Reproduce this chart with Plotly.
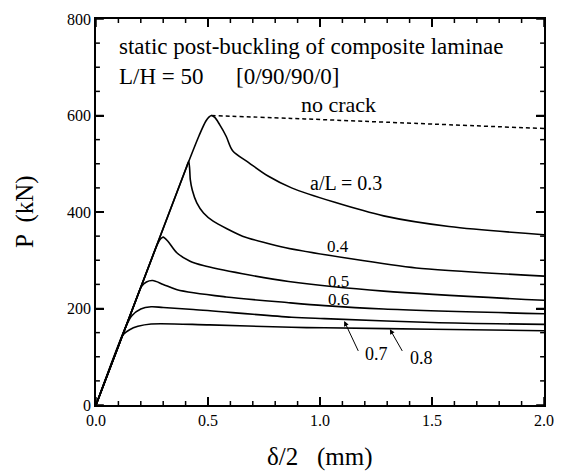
import plotly.graph_objects as go

# ---- data (delta/2 in mm, P in kN) ----
x_03 = [0, 0.40, 0.46, 0.49, 0.505, 0.515, 0.53, 0.552, 0.581, 0.61, 0.683, 0.77, 0.873, 1.066, 1.284, 1.576, 2.0]
y_03 = [0, 488, 558, 588, 597, 600, 596, 581, 557, 527, 502, 474, 450, 420, 392, 370, 353]

x_nc = [0.515, 0.873, 1.3, 2.0]
y_nc = [600, 594, 586, 573]

x_04 = [0, 0.40, 0.414, 0.418, 0.421, 0.43, 0.45, 0.48, 0.523, 0.654, 0.847, 1.139, 1.43, 2.0]
y_04 = [0, 488, 505, 490, 467, 445, 419, 398, 381, 350, 326, 303, 284, 267]

x_05 = [0, 0.26, 0.275, 0.29, 0.30, 0.32, 0.362, 0.42, 0.479, 0.654, 0.86, 1.284, 2.0]
y_05 = [0, 317, 334, 345, 348, 340, 315, 298, 289, 272, 256, 236, 217]

x_06 = [0, 0.185, 0.202, 0.225, 0.253, 0.30, 0.362, 0.581, 0.86, 1.02, 1.284, 2.0]
y_06 = [0, 226, 245, 255, 258, 250, 239, 224, 212, 206, 199, 189]

x_07 = [0, 0.13, 0.16, 0.20, 0.246, 0.30, 0.435, 0.873, 1.02, 1.5, 2.0]
y_07 = [0, 159, 185, 199, 203.5, 202, 198, 182, 179, 171, 167]

x_08 = [0, 0.10, 0.122, 0.15, 0.187, 0.246, 0.508, 0.873, 1.02, 1.5, 2.0]
y_08 = [0, 122, 146, 156, 163, 168, 166, 161, 160, 157, 154]

curve_labels = ["a/L = 0.3", "0.4", "0.5", "0.6"]
label_x = [1.115, 1.082, 1.082, 1.082]
label_y = [461, 329, 257, 219]
label_size = [20, 17, 17, 17]

# axis ticks: major step and minor step
x_major, x_minor = 0.5, 0.1
y_major, y_minor = 200, 50
x_range = [0, 2.0]
y_range = [0, 800]

W, H = 565, 472
ML, MR, MT, MB = 96, 11, 18, 67

FONT = "Liberation Serif, DejaVu Serif, Times New Roman, serif"
fig = go.Figure()

curves = [(x_03, y_03), (x_04, y_04), (x_05, y_05), (x_06, y_06), (x_07, y_07), (x_08, y_08)]
for i, (xs, ys) in enumerate(curves):
    fig.add_trace(go.Scatter(x=xs, y=ys, mode="lines",
                             line=dict(color="black", width=1.6, shape="spline",
                                       smoothing=0.6 if i == 1 else 0.9),
                             showlegend=False))
fig.add_trace(go.Scatter(x=x_nc, y=y_nc, mode="lines",
                         line=dict(color="black", width=1.5, dash="4px,3px", shape="spline"), showlegend=False))

# inward tick marks on all four sides (major + minor), sized in pixels
px_per_x = (W - ML - MR) / (x_range[1] - x_range[0])
px_per_y = (H - MT - MB) / (y_range[1] - y_range[0])
shapes = []
n_x = int(round((x_range[1] - x_range[0]) / x_minor))
for i in range(n_x + 1):
    v = x_range[0] + i * x_minor
    major = abs(v / x_major - round(v / x_major)) < 1e-6
    L = (8 if major else 4) / px_per_y
    for y0, y1 in [(y_range[0], y_range[0] + L), (y_range[1], y_range[1] - L)]:
        shapes.append(dict(type="line", xref="x", yref="y", x0=v, x1=v, y0=y0, y1=y1,
                           line=dict(color="black", width=1.5), layer="above"))
n_y = int(round((y_range[1] - y_range[0]) / y_minor))
for i in range(n_y + 1):
    v = y_range[0] + i * y_minor
    major = abs(v / y_major - round(v / y_major)) < 1e-6
    L = (8 if major else 4) / px_per_x
    for x0, x1 in [(x_range[0], x_range[0] + L), (x_range[1], x_range[1] - L)]:
        shapes.append(dict(type="line", xref="x", yref="y", x0=x0, x1=x1, y0=v, y1=v,
                           line=dict(color="black", width=1.5), layer="above"))

ann = []
ann.append(dict(x=0.094, y=743, text="static post-buckling of composite laminae", showarrow=False,
                xanchor="left", yanchor="middle", font=dict(family=FONT, size=23, color="black")))
ann.append(dict(x=0.094, y=681, text="L/H = 50", showarrow=False,
                xanchor="left", yanchor="middle", font=dict(family=FONT, size=23, color="black")))
ann.append(dict(x=0.614, y=681, text="[0/90/90/0]", showarrow=False,
                xanchor="left", yanchor="middle", font=dict(family=FONT, size=23, color="black")))
ann.append(dict(x=1.082, y=623, text="no crack", showarrow=False,
                xanchor="center", yanchor="middle", font=dict(family=FONT, size=22, color="black")))
for t, lx, ly, ls in zip(curve_labels, label_x, label_y, label_size):
    ann.append(dict(x=lx, y=ly, text=t, showarrow=False, xanchor="center", yanchor="middle",
                    font=dict(family=FONT, size=ls, color="black")))

# arrows for 0.7 and 0.8
ann.append(dict(x=1.108, y=174, ax=1.174, ay=109, axref="x", ayref="y", xref="x", yref="y",
                text="", showarrow=True, arrowhead=2, arrowsize=1, arrowwidth=1, arrowcolor="black", standoff=0))
ann.append(dict(x=1.312, y=157, ax=1.371, ay=109, axref="x", ayref="y", xref="x", yref="y",
                text="", showarrow=True, arrowhead=2, arrowsize=1, arrowwidth=1, arrowcolor="black", standoff=0))
ann.append(dict(x=1.252, y=106, text="0.7", showarrow=False, xanchor="center", yanchor="middle",
                font=dict(family=FONT, size=18, color="black")))
ann.append(dict(x=1.451, y=98, text="0.8", showarrow=False, xanchor="center", yanchor="middle",
                font=dict(family=FONT, size=18, color="black")))

# axis titles
ann.append(dict(x=0, y=0.5, xref="paper", yref="paper", xshift=-71, text="P &nbsp;(kN)", textangle=-90,
                showarrow=False, xanchor="center", yanchor="middle", font=dict(family=FONT, size=25, color="black")))
ann.append(dict(x=0.5, y=0, xref="paper", yref="paper", yshift=-52, text="δ/2 &nbsp;&nbsp;(mm)",
                showarrow=False, xanchor="center", yanchor="middle", font=dict(family=FONT, size=25, color="black")))

axis_common = dict(ticks="inside", tickwidth=1.5, tickcolor="black", showline=True, linecolor="black",
                   linewidth=1.5, mirror="ticks", showgrid=False, zeroline=False)

fig.update_layout(
    width=W, height=H,
    margin=dict(l=ML, r=MR, t=MT, b=MB),
    paper_bgcolor="white", plot_bgcolor="white",
    font=dict(family=FONT, color="black"),
    annotations=ann,
    shapes=shapes,
    xaxis=dict(range=x_range, tickmode="linear", tick0=0, dtick=x_major, tickformat=".1f",
               ticklen=8, tickfont=dict(family=FONT, size=16, color="black"), **axis_common),
    yaxis=dict(range=y_range, tickmode="linear", tick0=0, dtick=y_major,
               ticklen=8, tickfont=dict(family=FONT, size=16, color="black"), **axis_common),
)

fig.write_html("out.html")
